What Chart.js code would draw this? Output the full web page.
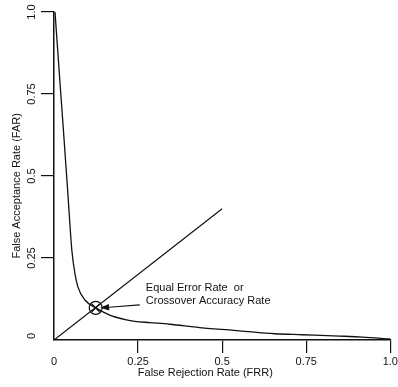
<!DOCTYPE html>
<html>
<head>
<meta charset="utf-8">
<script src="https://cdn.jsdelivr.net/npm/chart.js@4"></script>
<style>
html,body{margin:0;padding:0;background:#fff;}
#wrap{width:398px;height:387px;position:relative;}
</style>
</head>
<body>
<div id="wrap"><canvas id="c"></canvas></div>
<script>
// ---- data ----
const curveFRR = [0.003, 0.016, 0.028, 0.041, 0.053, 0.062, 0.071, 0.092, 0.124, 0.166, 0.205, 0.240, 0.285, 0.344, 0.433, 0.552, 0.656, 0.739, 0.849, 0.917, 1.0];
const curveFAR = [1.0, 0.81, 0.64, 0.45, 0.274, 0.204, 0.162, 0.122, 0.098, 0.076, 0.064, 0.057, 0.053, 0.048, 0.038, 0.028, 0.019, 0.016, 0.012, 0.009, 0.003];
const diagFRR = [0, 0.5];
const diagFAR = [0, 0.4];
const eerFRR = [0.124];
const eerFAR = [0.098];
const xTickValues = [0, 0.25, 0.5, 0.75, 1.0];
const xTickLabels = ['0', '0.25', '0.5', '0.75', '1.0'];
const yTickValues = [0, 0.25, 0.5, 0.75, 1.0];
const yTickLabels = ['0', '0.25', '0.5', '0.75', '1.0'];
const xTitle = 'False Rejection Rate (FRR)';
const yTitle = 'False Acceptance Rate (FAR)';
const noteLines = ['Equal Error Rate  or', 'Crossover Accuracy Rate'];

const INK = '#111';
const FONT = "'Liberation Sans', Arial, sans-serif";
const toPts = (xs, ys) => xs.map((x, i) => ({x, y: ys[i]}));

const textPlugin = {
  id: 'texts',
  afterDraw(chart) {
    const ctx = chart.ctx, xs = chart.scales.x, ys = chart.scales.y;
    ctx.save();
    ctx.fillStyle = INK;
    ctx.font = '11px ' + FONT;
    ctx.textAlign = 'center';
    ctx.textBaseline = 'middle';
    // rotated y tick labels
    yTickValues.forEach((v, i) => {
      ctx.save();
      ctx.translate(32, ys.getPixelForValue(v) - (v === 0 ? 4 : 0));
      ctx.rotate(-Math.PI / 2);
      ctx.fillText(yTickLabels[i], 0, 0);
      ctx.restore();
    });
    // y title
    ctx.save();
    ctx.translate(17, ys.getPixelForValue(0.47));
    ctx.rotate(-Math.PI / 2);
    ctx.fillText(yTitle, 0, 0);
    ctx.restore();
    // x title
    ctx.fillText(xTitle, xs.getPixelForValue(0.45), 373);
    // annotation
    ctx.textAlign = 'left';
    ctx.fillText(noteLines[0], xs.getPixelForValue(0.273), ys.getPixelForValue(0.159));
    ctx.fillText(noteLines[1], xs.getPixelForValue(0.273), ys.getPixelForValue(0.119));
    // arrow
    const tx = xs.getPixelForValue(0.255), ty = ys.getPixelForValue(0.107);
    const hx = xs.getPixelForValue(0.137), hy = ys.getPixelForValue(0.098);
    const ang = Math.atan2(hy - ty, hx - tx);
    const L = 9, W = 3.2;
    const bx = hx - L * Math.cos(ang), by = hy - L * Math.sin(ang);
    ctx.strokeStyle = INK;
    ctx.lineWidth = 1.1;
    ctx.beginPath();
    ctx.moveTo(tx, ty);
    ctx.lineTo(bx, by);
    ctx.stroke();
    ctx.beginPath();
    ctx.moveTo(hx, hy);
    ctx.lineTo(bx + W * Math.sin(ang), by - W * Math.cos(ang));
    ctx.lineTo(bx - W * Math.sin(ang), by + W * Math.cos(ang));
    ctx.closePath();
    ctx.fill();
    ctx.restore();
  }
};

new Chart(document.getElementById('c'), {
  type: 'scatter',
  data: {
    datasets: [
      {data: toPts(curveFRR, curveFAR), showLine: true, borderColor: INK, borderWidth: 1.3, pointRadius: 0, cubicInterpolationMode: 'monotone'},
      {data: toPts(diagFRR, diagFAR), showLine: true, borderColor: INK, borderWidth: 1.2, pointRadius: 0},
      {data: toPts(eerFRR, eerFAR), pointStyle: 'circle', pointRadius: 6.5, borderColor: INK, borderWidth: 1.2, backgroundColor: 'rgba(0,0,0,0)'},
      {data: toPts(eerFRR, eerFAR), pointStyle: 'crossRot', pointRadius: 5.5, borderColor: INK, borderWidth: 1.2}
    ]
  },
  options: {
    responsive: true,
    maintainAspectRatio: false,
    animation: false,
    events: [],
    layout: {padding: {top: 12, right: 5, left: 0, bottom: 0}},
    plugins: {legend: {display: false}, tooltip: {enabled: false}},
    scales: {
      x: {
        type: 'linear', min: 0, max: 1,
        afterBuildTicks: s => { s.ticks = xTickValues.map(v => ({value: v})); },
        afterFit: s => { s.height = 47; s.paddingLeft = 0; s.paddingRight = 0; },
        ticks: {callback: (v, i) => xTickLabels[i], color: INK, font: {family: FONT, size: 11}, padding: 2, maxRotation: 0, autoSkip: false},
        grid: {drawOnChartArea: false, tickLength: 13, lineWidth: 1.2,
               color: c => (c.tick && c.tick.value === 0) ? 'rgba(0,0,0,0)' : INK},
        border: {color: INK, width: 1.5}
      },
      y: {
        type: 'linear', min: 0, max: 1,
        afterBuildTicks: s => { s.ticks = yTickValues.map(v => ({value: v})); },
        afterFit: s => { s.width = 54; s.paddingTop = 0; s.paddingBottom = 0; },
        ticks: {callback: (v, i) => yTickLabels[i], color: 'rgba(0,0,0,0)', font: {family: FONT, size: 11}},
        grid: {drawOnChartArea: false, tickLength: 13, lineWidth: 1.2,
               color: c => (c.tick && c.tick.value === 0) ? 'rgba(0,0,0,0)' : INK},
        border: {color: INK, width: 1.5}
      }
    }
  },
  plugins: [textPlugin]
});
</script>
</body>
</html>
